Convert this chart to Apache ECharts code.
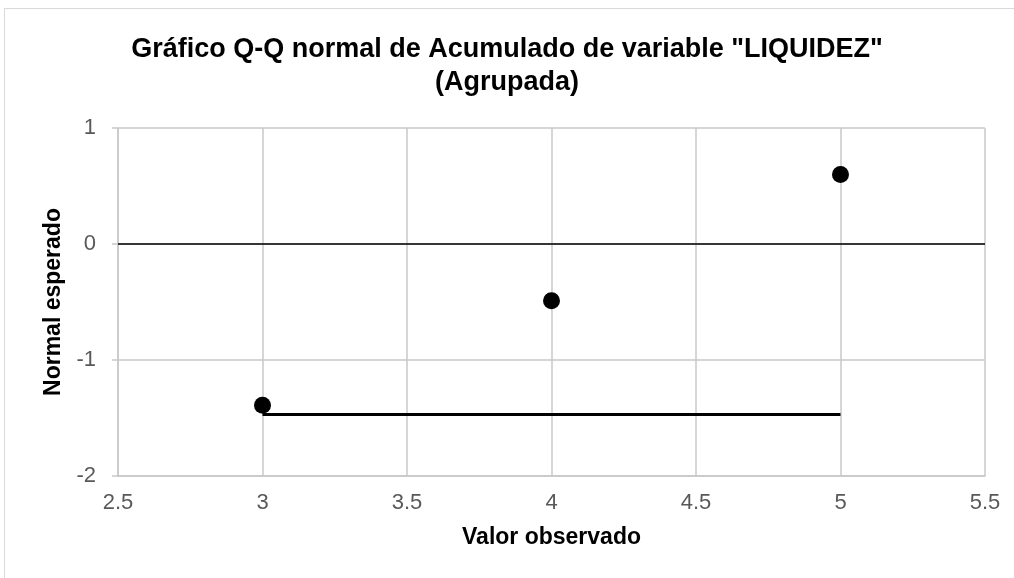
<!DOCTYPE html>
<html>
<head>
<meta charset="utf-8">
<script src="https://cdn.jsdelivr.net/npm/echarts@6/dist/echarts.min.js"></script>
<style>
  html, body { margin: 0; padding: 0; background: #fff; }
  #frame {
    position: absolute; left: 4px; top: 8px; width: 1020px; height: 580px;
    border: 1px solid #d9d9d9;
  }
  #chart { position: absolute; left: 0; top: 0; width: 1014px; height: 578px; }
</style>
</head>
<body>
<div id="frame"></div>
<div id="chart"></div>
<script>
// datos
const observed = [3, 4, 5];
const expected = [-1.39, -0.49, 0.60];
const trendX = [3, 5];
const trendY = [-1.47, -1.47];
const xTicks = [2.5, 3, 3.5, 4, 4.5, 5, 5.5];
const yTicks = [-2, -1, 0, 1];

const points = observed.map((v, i) => [v, expected[i]]);
const trend = trendX.map((v, i) => [v, trendY[i]]);

const font = 'Liberation Sans, Arial, sans-serif';
const grey = '#c8c8c8';

let myChart = echarts.init(document.getElementById('chart'));
myChart.setOption({
  animation: false,
  title: {
    text: 'Gráfico Q-Q normal de Acumulado de variable "LIQUIDEZ"\n(Agrupada)',
    left: 'center',
    top: 28,
    textStyle: {
      fontFamily: font,
      fontSize: 27,
      fontWeight: 'bold',
      color: '#000',
      lineHeight: 33
    }
  },
  grid: { left: 118, right: 29, top: 128, bottom: 102, containLabel: false },
  xAxis: {
    type: 'value',
    min: xTicks[0],
    max: xTicks[xTicks.length - 1],
    interval: 0.5,
    name: 'Valor observado',
    nameLocation: 'middle',
    nameGap: 50,
    nameTextStyle: { fontFamily: font, fontSize: 23, fontWeight: 'bold', color: '#000' },
    axisLine: { show: true, onZero: false, lineStyle: { color: grey, width: 1.5 } },
    axisTick: { show: false },
    axisLabel: { fontFamily: font, fontSize: 22, color: '#595959', margin: 16 },
    splitLine: { show: true, lineStyle: { color: grey, width: 1.5 } }
  },
  yAxis: {
    type: 'value',
    min: yTicks[0],
    max: yTicks[yTicks.length - 1],
    interval: 1,
    name: 'Normal esperado',
    nameLocation: 'middle',
    nameGap: 50,
    nameTextStyle: { fontFamily: font, fontSize: 23, fontWeight: 'bold', color: '#000' },
    axisLine: { show: true, lineStyle: { color: grey, width: 1.5 } },
    axisTick: { show: true, length: 6, lineStyle: { color: grey, width: 1.5 } },
    axisLabel: { fontFamily: font, fontSize: 22, color: '#595959', margin: 22 },
    splitLine: { show: true, lineStyle: { color: grey, width: 1.5 } }
  },
  series: [
    {
      name: 'tendencia',
      type: 'line',
      data: trend,
      symbol: 'none',
      lineStyle: { color: '#000', width: 3 },
      silent: true,
      z: 2
    },
    {
      name: 'puntos',
      type: 'scatter',
      data: points,
      symbol: 'circle',
      symbolSize: 17,
      itemStyle: { color: '#000', opacity: 1 },
      z: 3,
      markLine: {
        silent: true,
        symbol: 'none',
        label: { show: false },
        lineStyle: { color: '#000', width: 1.5, type: 'solid' },
        data: [{ yAxis: 0 }]
      }
    }
  ]
});
</script>
</body>
</html>
